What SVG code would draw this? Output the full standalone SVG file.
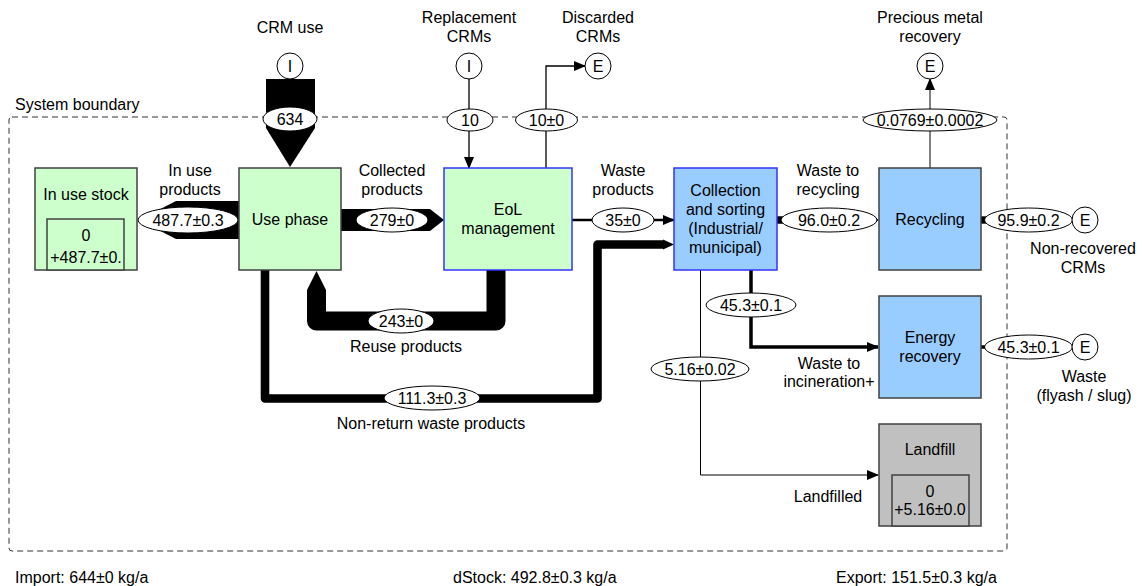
<svg xmlns="http://www.w3.org/2000/svg" width="1142" height="586" viewBox="0 0 1142 586">
  <style>
    text { font-family: "Liberation Sans", Arial, sans-serif; font-size: 16px; fill: #000; text-anchor: middle; }
    .left { text-anchor: start; }
    .green { fill: #ccffcc; stroke: #404040; stroke-width: 1.5; }
    .greenb { fill: #ccffcc; stroke: #3333ff; stroke-width: 1.5; }
    .blue { fill: #99ccff; stroke: #404040; stroke-width: 1.5; }
    .blueb { fill: #99ccff; stroke: #3333ff; stroke-width: 1.5; }
    .grey { fill: #c0c0c0; stroke: #404040; stroke-width: 1.5; }
    .lbl { fill: #fff; stroke: #000; stroke-width: 1; }
    .term { fill: #fff; stroke: #000; stroke-width: 1; }
    .band { fill: #000; }
    .line { fill: none; stroke: #000; }
  </style>
  <defs>
    <marker id="arr" markerUnits="userSpaceOnUse" markerWidth="12" markerHeight="10" refX="11" refY="5" orient="auto">
      <path d="M0,0 L12,5 L0,10 Z" fill="#000"/>
    </marker>
  </defs>

  <!-- system boundary -->
  <rect x="9" y="117" width="998" height="434" rx="3" fill="none" stroke="#333" stroke-width="1" stroke-dasharray="6,4"/>
  <text class="left" x="15" y="110">System boundary</text>

  <!-- flows -->
  <g id="connectors">
    <!-- CRM use import -->
    <path class="band" d="M266,79 H315 V128 L290,167 L266,128 Z"/>
    <ellipse class="lbl" cx="290" cy="119" rx="27" ry="12"/>
    <text x="290" y="125">634</text>

    <!-- in use products -->
    <path class="band" d="M239,201 H176 L139,220 L176,239 H239 Z"/>
    <ellipse class="lbl" cx="188" cy="220" rx="50" ry="13"/>
    <text x="188" y="226">487.7±0.3</text>
    <text x="190" y="176">In use</text>
    <text x="190" y="195">products</text>

    <!-- collected products -->
    <path class="band" d="M341,209 H430 L444,220 L430,231 H341 Z"/>
    <ellipse class="lbl" cx="392" cy="220" rx="36" ry="12"/>
    <text x="392" y="226">279±0</text>
    <text x="392" y="176">Collected</text>
    <text x="392" y="195">products</text>

    <!-- reuse products -->
    <path class="line" d="M496,270 V321 H316.5 V290" stroke-width="19" stroke-linejoin="round"/>
    <path class="band" d="M307,290 H326 L316.5,271 Z"/>
    <ellipse class="lbl" cx="401" cy="321" rx="33" ry="12"/>
    <text x="401" y="327">243±0</text>
    <text x="406" y="352">Reuse products</text>

    <!-- non-return waste products -->
    <path class="line" d="M265,270 V398.5 H597.5 V244.5 H664" stroke-width="8.6" stroke-linejoin="round"/>
    <path class="band" d="M663,239.5 L674,244.5 L663,249.5 Z"/>
    <ellipse class="lbl" cx="432" cy="398" rx="48" ry="12"/>
    <text x="432" y="404">111.3±0.3</text>
    <text x="431" y="429">Non-return waste products</text>

    <!-- replacement CRMs -->
    <line class="line" x1="469" y1="79" x2="469" y2="168" stroke-width="1.3" marker-end="url(#arr)"/>
    <ellipse class="lbl" cx="470" cy="120" rx="23" ry="11"/>
    <text x="470" y="126">10</text>

    <!-- discarded CRMs -->
    <path class="line" d="M546,168 V66 H585" stroke-width="1.3" marker-end="url(#arr)"/>
    <ellipse class="lbl" cx="546.5" cy="120" rx="31" ry="11"/>
    <text x="546.5" y="126">10±0</text>

    <!-- waste products -->
    <line class="line" x1="572" y1="220" x2="674" y2="220" stroke-width="2.7" marker-end="url(#arr)"/>
    <ellipse class="lbl" cx="623" cy="220" rx="31" ry="12"/>
    <text x="623" y="226">35±0</text>
    <text x="623" y="176">Waste</text>
    <text x="623" y="195">products</text>

    <!-- waste to recycling -->
    <path class="band" d="M777,216.3 H872 L879,220 L872,223.7 H777 Z"/>
    <ellipse class="lbl" cx="829" cy="220" rx="48" ry="12"/>
    <text x="829" y="226">96.0±0.2</text>
    <text x="828" y="176">Waste to</text>
    <text x="828" y="195">recycling</text>

    <!-- precious metal recovery -->
    <line class="line" x1="930" y1="168" x2="930" y2="79" stroke-width="1" marker-end="url(#arr)"/>
    <ellipse class="lbl" cx="930" cy="120" rx="67" ry="11"/>
    <text x="930" y="126">0.0769±0.0002</text>

    <!-- non-recovered CRMs -->
    <path class="band" d="M981,216.3 H1000 V223.7 H981 Z"/>
    <ellipse class="lbl" cx="1028.5" cy="220" rx="44" ry="12"/>
    <text x="1028.5" y="226">95.9±0.2</text>

    <!-- waste to incineration -->
    <path class="line" d="M751,270 V347 H878" stroke-width="3.5" marker-end="url(#arr)"/>
    <ellipse class="lbl" cx="751" cy="305" rx="45" ry="12"/>
    <text x="751" y="311">45.3±0.1</text>
    <text x="829" y="369">Waste to</text>
    <text x="829" y="387">incineration+</text>

    <!-- waste (flyash / slug) -->
    <line class="line" x1="981" y1="347" x2="1000" y2="347" stroke-width="3.5"/>
    <ellipse class="lbl" cx="1028.5" cy="347" rx="44" ry="12"/>
    <text x="1028.5" y="353">45.3±0.1</text>

    <!-- landfilled -->
    <path class="line" d="M700.5,270 V475 H878" stroke-width="1" marker-end="url(#arr)"/>
    <ellipse class="lbl" cx="700" cy="369" rx="49" ry="12"/>
    <text x="700" y="375">5.16±0.02</text>
    <text x="828" y="502">Landfilled</text>
  </g>

  <!-- import / export terminals -->
  <g id="crm-use">
    <circle class="term" cx="290" cy="66" r="13"/>
    <text x="290" y="72">I</text>
    <text x="290" y="33">CRM use</text>
  </g>
  <g id="replacement-crms">
    <circle class="term" cx="469" cy="66" r="13"/>
    <text x="469" y="72">I</text>
    <text x="469" y="23">Replacement</text>
    <text x="469" y="42">CRMs</text>
  </g>
  <g id="discarded-crms">
    <circle class="term" cx="598" cy="66" r="13"/>
    <text x="598" y="72">E</text>
    <text x="598" y="23">Discarded</text>
    <text x="598" y="42">CRMs</text>
  </g>
  <g id="precious-metal-recovery">
    <circle class="term" cx="930" cy="66" r="13"/>
    <text x="930" y="72">E</text>
    <text x="930" y="23">Precious metal</text>
    <text x="930" y="42">recovery</text>
  </g>
  <g id="non-recovered-crms">
    <circle class="term" cx="1085" cy="220" r="13"/>
    <text x="1085" y="226">E</text>
    <text x="1083" y="254">Non-recovered</text>
    <text x="1083" y="273">CRMs</text>
  </g>
  <g id="waste-flyash">
    <circle class="term" cx="1085" cy="347" r="13"/>
    <text x="1085" y="353">E</text>
    <text x="1084" y="382">Waste</text>
    <text x="1084" y="401">(flyash / slug)</text>
  </g>

  <!-- processes -->
  <g id="in-use-stock">
    <rect class="green" x="35" y="168" width="102" height="102"/>
    <rect class="green" x="47" y="219" width="77" height="51"/>
    <text x="86" y="200">In use stock</text>
    <text x="86" y="241">0</text>
    <text x="86" y="263">+487.7±0.</text>
  </g>
  <g id="use-phase">
    <rect class="green" x="239" y="168" width="102" height="102"/>
    <text x="290" y="225">Use phase</text>
  </g>
  <g id="eol-management">
    <rect class="greenb" x="444" y="168" width="128" height="102"/>
    <text x="508" y="215">EoL</text>
    <text x="508" y="234">management</text>
  </g>
  <g id="collection-sorting">
    <rect class="blueb" x="674" y="168" width="103" height="102"/>
    <text x="725.5" y="196">Collection</text>
    <text x="725.5" y="215">and sorting</text>
    <text x="725.5" y="234">(Industrial/</text>
    <text x="725.5" y="253">municipal)</text>
  </g>
  <g id="recycling">
    <rect class="blue" x="879" y="168" width="102" height="102"/>
    <text x="930" y="225">Recycling</text>
  </g>
  <g id="energy-recovery">
    <rect class="blue" x="879" y="296" width="102" height="102"/>
    <text x="930" y="343">Energy</text>
    <text x="930" y="362">recovery</text>
  </g>
  <g id="landfill">
    <rect class="grey" x="879" y="424" width="102" height="102"/>
    <rect class="grey" x="892" y="475" width="77" height="51"/>
    <text x="930" y="455">Landfill</text>
    <text x="930" y="497">0</text>
    <text x="930" y="515">+5.16±0.0</text>
  </g>

  <!-- totals -->
  <text class="left" x="15" y="583">Import: 644±0 kg/a</text>
  <text class="left" x="453" y="583">dStock: 492.8±0.3 kg/a</text>
  <text class="left" x="836" y="583">Export: 151.5±0.3 kg/a</text>
</svg>
